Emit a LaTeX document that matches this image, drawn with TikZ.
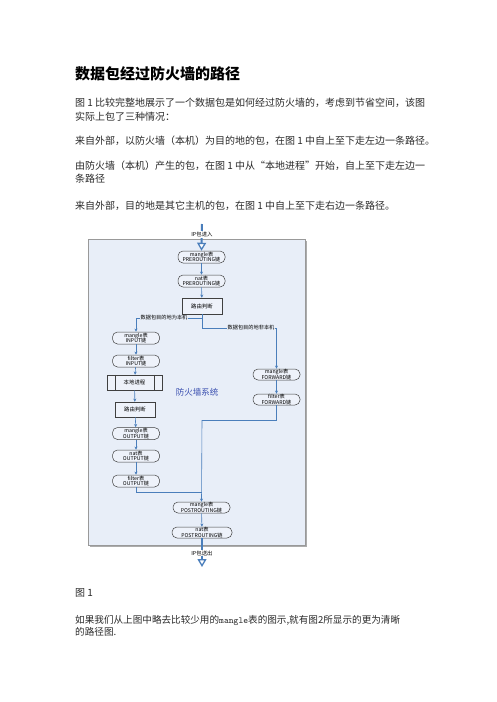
\documentclass[tikz,border=0pt]{standalone}
\usepackage{fontspec}
\newfontfamily\cjk{Noto Sans CJK SC}
\usetikzlibrary{arrows.meta}
\definecolor{lineblue}{HTML}{4A7EBB}
\definecolor{framefill}{HTML}{E8EEF8}
\definecolor{boxfill}{HTML}{EEF2FA}
\definecolor{txtcol}{HTML}{2A2A2A}
\definecolor{sysblue}{HTML}{3A4FB0}
\tikzset{
  tbl/.style={draw=black!75, line width=0.5pt, fill=boxfill, rounded corners=5pt,
    minimum width=47pt, minimum height=12pt, inner sep=0pt, align=center,
    font=\cjk\fontsize{5.2}{5.8}\selectfont},
  rbox/.style={draw=black!75, line width=0.5pt, fill=boxfill, minimum width=40pt,
    minimum height=16pt, inner sep=0pt, font=\cjk\fontsize{5.4}{6}\selectfont},
  conn/.style={draw=lineblue, line width=0.6pt, -{Stealth[length=3.2pt,width=3pt]}},
  plain/.style={draw=lineblue, line width=0.6pt},
  bigarr/.style={draw=lineblue, line width=2pt,
    -{Triangle[length=8pt,width=9pt,fill=white,line width=1.3pt]}},
  lbl/.style={fill=framefill, inner sep=0.6pt, font=\cjk\fontsize{5.2}{6}\selectfont},
  iolbl/.style={fill=white, inner sep=0.6pt, font=\cjk\fontsize{5.4}{6}\selectfont},
  body/.style={anchor=west, inner sep=0pt, text=txtcol, font=\cjk\fontsize{10}{12}\selectfont},
}
\begin{document}
\begin{tikzpicture}[x=1pt,y=-1pt]
\useasboundingbox[fill=white] (0,0) rectangle (496,702);
% title and body text
\node[anchor=west, inner sep=0pt] (title) at (75,74) {\cjk\bfseries\fontsize{15}{15}\selectfont 数据包经过防火墙的路径};
\node[body] (p1a) at (75,103) {图 1 比较完整地展示了一个数据包是如何经过防火墙的，考虑到节省空间，该图};
\node[body] (p1b) at (75,117) {实际上包了三种情况：};
\node[body] (p2) at (75,141) {来自外部，以防火墙（本机）为目的地的包，在图 1 中自上至下走左边一条路径。};
\node[body] (p3a) at (75,166) {由防火墙（本机）产生的包，在图 1 中从“本地进程”开始，自上至下走左边一};
\node[body] (p3b) at (75,179) {条路径};
\node[body] (p4) at (75,206) {来自外部，目的地是其它主机的包，在图 1 中自上至下走右边一条路径。};
\node[body] (cap) at (75,593) {图 1};
\node[body, font=\cjk\fontsize{9.6}{11}\selectfont] (p5a) at (75,620) {如果我们从上图中略去比较少用的{\ttfamily\fontsize{9.2}{11}\selectfont mangle}表的图示,就有图2所显示的更为清晰};
\node[body, font=\cjk\fontsize{9.6}{11}\selectfont] (p5b) at (75,632) {的路径图.};
% frame
\fill[gray!65] (90,241) rectangle (307,547);
\draw[draw=gray!80, line width=0.6pt, fill=framefill] (88,239) rectangle (305,545);
\node[text=sysblue, inner sep=0pt, font=\cjk\fontsize{8.5}{9}\selectfont] (sys) at (197,392) {防火墙系统};
% nodes
\node[tbl] (mp) at (201.5,257) {mangle表\\PREROUTING链};
\node[tbl] (np) at (201.5,281) {nat表\\PREROUTING链};
\node[rbox] (r1) at (202,306) {路由判断};
\node[tbl] (mi) at (136,338) {mangle表\\INPUT链};
\node[tbl] (fi) at (136,361) {filter表\\INPUT链};
\node[rbox, minimum width=55pt, minimum height=15pt] (lp) at (134.5,382.5) {本地进程};
\draw[black!75, line width=0.5pt] ([xshift=8pt]lp.north west) -- ([xshift=8pt]lp.south west);
\draw[black!75, line width=0.5pt] ([xshift=-8pt]lp.north east) -- ([xshift=-8pt]lp.south east);
\node[rbox, minimum height=15pt] (r2) at (135,409.5) {路由判断};
\node[tbl] (mo) at (136,433.5) {mangle表\\OUTPUT链};
\node[tbl] (no) at (136,456) {nat表\\OUTPUT链};
\node[tbl] (fo) at (136,481) {filter表\\OUTPUT链};
\node[tbl, minimum height=11pt] (mf) at (276.5,374.5) {mangle表\\FORWARD链};
\node[tbl, minimum height=11pt] (ff) at (276.5,399.5) {filter表\\FORWARD链};
\node[tbl, minimum width=57pt, minimum height=11pt] (mpo) at (201.5,507.5) {mangle表\\POSTROUTING链};
\node[tbl, minimum width=60pt, minimum height=11pt] (npo) at (202,532.5) {nat表\\POSTROUTING链};
% coordinates
\coordinate (inTop) at (202,224);
\coordinate (outEnd) at (202,567);
\coordinate (j1) at (202,318);
\coordinate (j2) at (202,328);
\coordinate (j3) at (202,420);
\coordinate (j4) at (202,492);
% connectors
\draw[bigarr] (inTop) -- (mp.north);
\draw[conn] (mp) -- (np);
\draw[conn] (np) -- (r1);
\draw[plain] (r1.south) -- (j2);
\draw[conn] (j1) -| (mi.north);
\draw[conn] (j2) -| (mf.north);
\draw[conn] (mi) -- (fi);
\draw[conn] (fi) -- (lp);
\draw[conn] (lp) -- (r2);
\draw[conn] (r2) -- (mo);
\draw[conn] (mo) -- (no);
\draw[conn] (no) -- (fo);
\draw[conn] (mf) -- (ff);
\draw[plain] (ff.south) |- (j3);
\draw[plain] (fo.south) |- (j4);
\draw[conn] (j3) -- (mpo.north);
\draw[conn] (mpo) -- (npo);
\draw[bigarr] (npo.south) -- (outEnd);
% labels
\node[iolbl] (inl) at (202,234.5) {IP包进入};
\node[iolbl] (outl) at (202,553) {IP包送出};
\node[lbl] (l1) at (164,318) {数据包目的地为本机};
\node[lbl] (l2) at (251,328) {数据包目的地非本机};
\end{tikzpicture}
\end{document}
